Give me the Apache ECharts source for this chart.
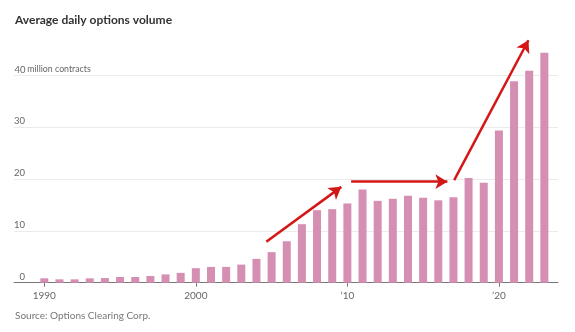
<!DOCTYPE html>
<html>
<head>
<meta charset="utf-8">
<script src="https://cdn.jsdelivr.net/npm/echarts@6/dist/echarts.min.js"></script>
<style>
  html, body { margin: 0; padding: 0; background: #fff; }
  #chart { width: 575px; height: 332px; }
</style>
</head>
<body>
<div id="chart"></div>
<script>
// Average daily options volume, million contracts per year
const years = [1990, 1991, 1992, 1993, 1994, 1995, 1996, 1997, 1998, 1999,
               2000, 2001, 2002, 2003, 2004, 2005, 2006, 2007, 2008, 2009,
               2010, 2011, 2012, 2013, 2014, 2015, 2016, 2017, 2018, 2019,
               2020, 2021, 2022, 2023];
const volume = [0.85, 0.65, 0.65, 0.85, 0.9, 1.1, 1.1, 1.3, 1.6, 1.9,
                2.8, 3.05, 3.05, 3.5, 4.6, 5.9, 8.0, 11.3, 14.0, 14.2,
                15.3, 18.0, 15.8, 16.2, 16.8, 16.4, 15.9, 16.5, 20.2, 19.3,
                29.4, 38.9, 40.9, 44.4];
const xTickYears = [1990, 2000, 2010, 2020];
const yTicks = [0, 10, 20, 30, 40];

// Trend arrows as [startYear, startValue, endYear, endValue]
const trendArrows = [
  [2004.65, 7.9, 2009.6, 18.5],
  [2010.25, 19.5, 2016.6, 19.5],
  [2017.05, 19.8, 2021.95, 46.8]
];

const font = 'Lato, "Noto Sans", sans-serif';
const chart = echarts.init(document.getElementById('chart'), null, { renderer: 'canvas' });

chart.setOption({
  animation: false,
  backgroundColor: '#fff',
  title: [
    {
      text: 'Average daily options volume',
      left: 15, top: 14, padding: 0,
      textStyle: { fontFamily: font, fontSize: 12, fontWeight: 'bold', color: '#333' }
    },
    {
      text: 'Source: Options Clearing Corp.',
      left: 15, top: 311, padding: 0,
      textStyle: { fontFamily: font, fontSize: 10, fontWeight: 'normal', color: '#777' }
    }
  ],
  grid: { left: 14, right: 17, top: 23.7, bottom: 49.3 },
  xAxis: {
    type: 'value',
    min: 1988,
    max: 2023.9,
    splitLine: { show: false },
    axisLine: { show: true, lineStyle: { color: '#777', width: 1 } },
    axisTick: { show: true, customValues: xTickYears, length: 4, lineStyle: { color: '#777' } },
    axisLabel: {
      customValues: xTickYears,
      margin: 8,
      fontFamily: font, fontSize: 10, color: '#666',
      formatter: v => v >= 2010 ? '\u2019' + String(v).slice(2) : String(v)
    }
  },
  yAxis: {
    type: 'value',
    min: 0, max: 50, interval: 10,
    axisLine: { show: false },
    axisTick: { show: false },
    splitLine: { show: true, showMaxLine: false, lineStyle: { color: '#ebebeb', width: 1 } },
    axisLabel: {
      inside: true,
      margin: 1,
      showMaxLabel: false,
      verticalAlign: 'bottom',
      align: 'left',
      padding: [0, 0, 1, 0],
      formatter: v => (yTicks.indexOf(v) < 0) ? '' :
        (v === 40 ? '{n|' + v + '}{u| million contracts}' : '{n|' + v + '}'),
      rich: {
        n: { width: 10, align: 'right', fontFamily: font, fontSize: 9.5, color: '#666' },
        u: { fontFamily: font, fontSize: 8.8, color: '#666' }
      }
    },
    z: 0
  },
  series: [{
    type: 'bar',
    data: years.map((y, i) => [y, volume[i]]),
    barWidth: 8,
    itemStyle: { color: '#d58fb3' },
    silent: true,
    z: 2,
    markLine: {
      silent: true,
      symbol: ['none', 'arrow'],
      symbolSize: [11, 12],
      label: { show: false },
      lineStyle: { color: '#d41616', width: 2.5, type: 'solid' },
      data: trendArrows.map(a => [
        { coord: [a[0], a[1]] },
        { coord: [a[2], a[3]] }
      ])
    }
  }]
});
</script>
</body>
</html>
